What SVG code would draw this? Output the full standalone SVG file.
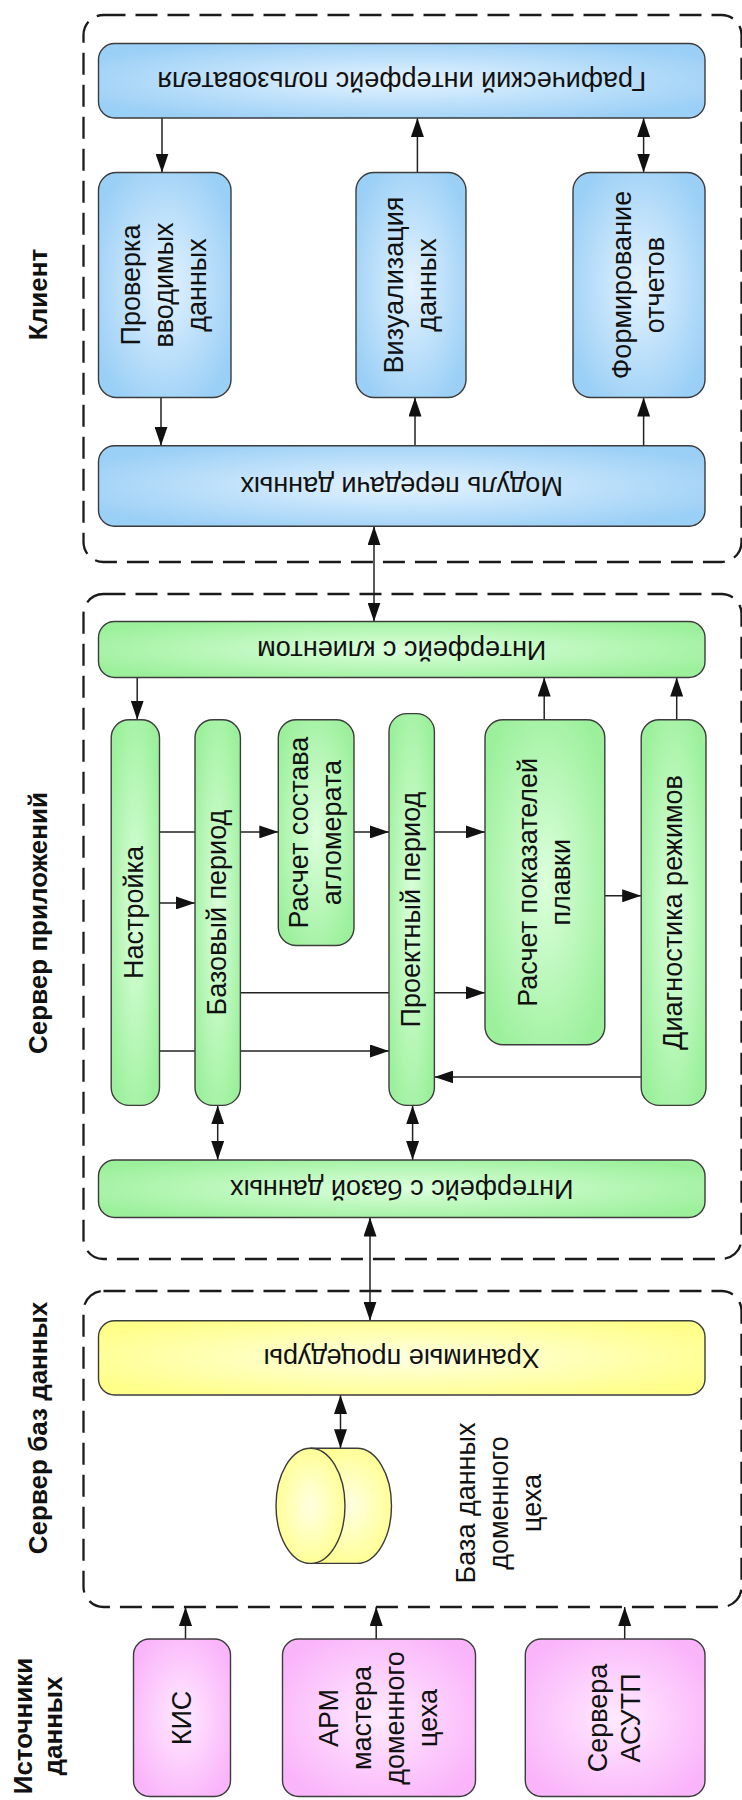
<svg xmlns="http://www.w3.org/2000/svg" width="742" height="1800" viewBox="0 0 742 1800">
  <defs>
    <radialGradient id="gBlue" cx="0.5" cy="0.5" r="0.6">
      <stop offset="0" stop-color="#e4f3ff"/>
      <stop offset="1" stop-color="#9acff6"/>
    </radialGradient>
    <radialGradient id="gGreen" cx="0.5" cy="0.5" r="0.6">
      <stop offset="0" stop-color="#dcffdc"/>
      <stop offset="1" stop-color="#9cf09c"/>
    </radialGradient>
    <radialGradient id="gYellow" cx="0.5" cy="0.5" r="0.6">
      <stop offset="0" stop-color="#ffffe2"/>
      <stop offset="1" stop-color="#ffff8a"/>
    </radialGradient>
    <radialGradient id="gPink" cx="0.5" cy="0.5" r="0.6">
      <stop offset="0" stop-color="#ffeaff"/>
      <stop offset="1" stop-color="#fab4fa"/>
    </radialGradient>
    <marker id="arr" viewBox="0 0 19 13" refX="19" refY="6.5" markerWidth="19" markerHeight="13" markerUnits="userSpaceOnUse" orient="auto-start-reverse">
      <path d="M0,0 L19,6.5 L0,13 Z" fill="#111"/>
    </marker>
  </defs>
  <style>
    .zone { fill: none; stroke: #1a1a1a; stroke-width: 2.3; stroke-dasharray: 22 10; }
    .box { stroke: #3c3c3c; stroke-width: 1.4; }
    .blue { fill: url(#gBlue); }
    .green { fill: url(#gGreen); }
    .yellow { fill: url(#gYellow); }
    .pink { fill: url(#gPink); }
    .lbl { font-family: "Liberation Sans", Arial, sans-serif; font-size: 27px; fill: #111; text-anchor: middle; }
    .ttl { font-family: "Liberation Sans", Arial, sans-serif; font-size: 26px; font-weight: bold; fill: #111; text-anchor: middle; }
    .cn path { fill: none; stroke: #222; stroke-width: 1.5; }
    .one { marker-end: url(#arr); }
    .two { marker-start: url(#arr); marker-end: url(#arr); }
  </style>

  <!-- tier frames -->
  <g id="tiers">
    <rect class="zone" x="83.5" y="15" width="658" height="547" rx="20"/>
    <rect class="zone" x="83.5" y="594" width="658" height="665" rx="20"/>
    <rect class="zone" x="83.5" y="1291" width="658" height="316" rx="20"/>
  </g>

  <!-- tier titles -->
  <g id="titles">
    <text class="ttl" transform="translate(47,294.5) rotate(-90)">Клиент</text>
    <text class="ttl" transform="translate(47,923) rotate(-90)">Сервер приложений</text>
    <text class="ttl" transform="translate(47,1428) rotate(-90)">Сервер баз данных</text>
    <text class="ttl" transform="translate(32,1726) rotate(-90)"><tspan x="0" y="0">Источники</tspan><tspan x="0" y="30">данных</tspan></text>
  </g>

  <!-- connectors -->
  <g id="connectors" class="cn">
    <!-- client -->
    <path class="one" d="M162,118 V172.5"/>
    <path class="one" d="M161,397.5 V445.8"/>
    <path class="one" d="M415,445.8 V397.5"/>
    <path class="one" d="M417.4,172.5 V118"/>
    <path class="one" d="M643.6,445.8 V397.5"/>
    <path class="two" d="M643.6,118 V172.5"/>
    <path class="two" d="M374,526.3 V621.5"/>
    <!-- application server -->
    <path class="one" d="M137.2,677.5 V719.7"/>
    <path class="one" d="M544.2,719.7 V677.5"/>
    <path class="one" d="M676.7,719.7 V677.5"/>
    <path class="one" d="M159.5,831.9 H278.3"/>
    <path class="one" d="M159.5,902.9 H195"/>
    <path class="one" d="M159.5,1051 H389"/>
    <path class="one" d="M354,831.9 H389"/>
    <path class="one" d="M434.4,831.9 H485"/>
    <path class="one" d="M240.4,992.8 H485"/>
    <path class="one" d="M604.8,895.8 H641.2"/>
    <path class="one" d="M641.2,1077 H434.4"/>
    <path class="two" d="M217.7,1105.4 V1160"/>
    <path class="two" d="M412.6,1105.4 V1160"/>
    <path class="two" d="M370,1217.5 V1320.7"/>
    <!-- database server -->
    <path class="two" d="M340.5,1395 V1448.3"/>
    <!-- sources -->
    <path class="one" d="M185.5,1639 V1607"/>
    <path class="one" d="M376.2,1639 V1607"/>
    <path class="one" d="M624.7,1639 V1607"/>
  </g>

  <!-- client nodes -->
  <g id="gui">
    <rect class="box blue" x="98.5" y="43.5" width="606.5" height="74.5" rx="16"/>
    <text class="lbl" transform="translate(401.7,80.7) rotate(180)" y="9">Графический интерфейс пользователя</text>
  </g>
  <g id="input-check">
    <rect class="box blue" x="98.5" y="172.5" width="132.5" height="225" rx="18"/>
    <text class="lbl" transform="translate(164.7,285) rotate(-90)"><tspan x="0" y="-25">Проверка</tspan><tspan x="0" y="8">вводимых</tspan><tspan x="0" y="41">данных</tspan></text>
  </g>
  <g id="visualization">
    <rect class="box blue" x="356" y="172.5" width="110" height="225" rx="18"/>
    <text class="lbl" transform="translate(411,285) rotate(-90)"><tspan x="0" y="-8.5">Визуализация</tspan><tspan x="0" y="24.5">данных</tspan></text>
  </g>
  <g id="reports">
    <rect class="box blue" x="573" y="172.5" width="132" height="225" rx="18"/>
    <text class="lbl" transform="translate(639,285) rotate(-90)"><tspan x="0" y="-8.5">Формирование</tspan><tspan x="0" y="24.5">отчетов</tspan></text>
  </g>
  <g id="transfer">
    <rect class="box blue" x="98.5" y="445.8" width="606.5" height="80.5" rx="16"/>
    <text class="lbl" transform="translate(401.7,486) rotate(180)" y="9">Модуль передачи данных</text>
  </g>

  <!-- application server nodes -->
  <g id="client-iface">
    <rect class="box green" x="98.5" y="621.5" width="606.5" height="56" rx="16"/>
    <text class="lbl" transform="translate(401.7,649.5) rotate(180)" y="9">Интерфейс с клиентом</text>
  </g>
  <g id="setup">
    <rect class="box green" x="111.2" y="719.7" width="48.3" height="385.7" rx="18"/>
    <text class="lbl" transform="translate(135.3,912.5) rotate(-90)" y="8">Настройка</text>
  </g>
  <g id="base-period">
    <rect class="box green" x="195" y="719.7" width="45.4" height="385.7" rx="18"/>
    <text class="lbl" transform="translate(217.7,912.5) rotate(-90)" y="8">Базовый период</text>
  </g>
  <g id="sinter">
    <rect class="box green" x="278.3" y="719.7" width="75.7" height="225.8" rx="18"/>
    <text class="lbl" transform="translate(316.2,832.6) rotate(-90)"><tspan x="0" y="-8.5">Расчет состава</tspan><tspan x="0" y="24.5">агломерата</tspan></text>
  </g>
  <g id="design-period">
    <rect class="box green" x="389" y="713.6" width="45.4" height="391.8" rx="18"/>
    <text class="lbl" transform="translate(411.7,909.5) rotate(-90)" y="8">Проектный период</text>
  </g>
  <g id="smelting">
    <rect class="box green" x="485" y="719.7" width="119.8" height="325" rx="18"/>
    <text class="lbl" transform="translate(545,882.3) rotate(-90)"><tspan x="0" y="-8.5">Расчет показателей</tspan><tspan x="0" y="24.5">плавки</tspan></text>
  </g>
  <g id="diagnostics">
    <rect class="box green" x="641.2" y="719.7" width="64.8" height="385.7" rx="18"/>
    <text class="lbl" transform="translate(673.6,912.5) rotate(-90)" y="8">Диагностика режимов</text>
  </g>
  <g id="db-iface">
    <rect class="box green" x="98.5" y="1160" width="606.5" height="57.5" rx="16"/>
    <text class="lbl" transform="translate(401.7,1188.7) rotate(180)" y="9">Интерфейс с базой данных</text>
  </g>

  <!-- database server nodes -->
  <g id="procedures">
    <rect class="box yellow" x="98.5" y="1320.7" width="606.5" height="74.3" rx="16"/>
    <text class="lbl" transform="translate(401.7,1357.8) rotate(180)" y="9">Хранимые процедуры</text>
  </g>
  <g id="database">
    <path class="box yellow" d="M310.5,1448.3 H357 A34.5,57.55 0 0 1 357,1563.4 H310.5 Z"/>
    <ellipse class="box yellow" cx="310.5" cy="1505.85" rx="34.5" ry="57.55"/>
    <text class="lbl" transform="translate(499,1503) rotate(-90)"><tspan x="0" y="-24">База данных</tspan><tspan x="0" y="9">доменного</tspan><tspan x="0" y="42">цеха</tspan></text>
  </g>

  <!-- data sources -->
  <g id="kis">
    <rect class="box pink" x="133.5" y="1639" width="97" height="157.5" rx="16"/>
    <text class="lbl" transform="translate(182,1718) rotate(-90)" y="9">КИС</text>
  </g>
  <g id="arm">
    <rect class="box pink" x="282.5" y="1639" width="193" height="157.5" rx="16"/>
    <text class="lbl" transform="translate(379,1718) rotate(-90)"><tspan x="0" y="-41.5">АРМ</tspan><tspan x="0" y="-8.5">мастера</tspan><tspan x="0" y="24.5">доменного</tspan><tspan x="0" y="57.5">цеха</tspan></text>
  </g>
  <g id="asutp">
    <rect class="box pink" x="525.3" y="1639" width="179.7" height="157.5" rx="16"/>
    <text class="lbl" transform="translate(615,1718) rotate(-90)"><tspan x="0" y="-8.5">Сервера</tspan><tspan x="0" y="24.5">АСУТП</tspan></text>
  </g>
</svg>
